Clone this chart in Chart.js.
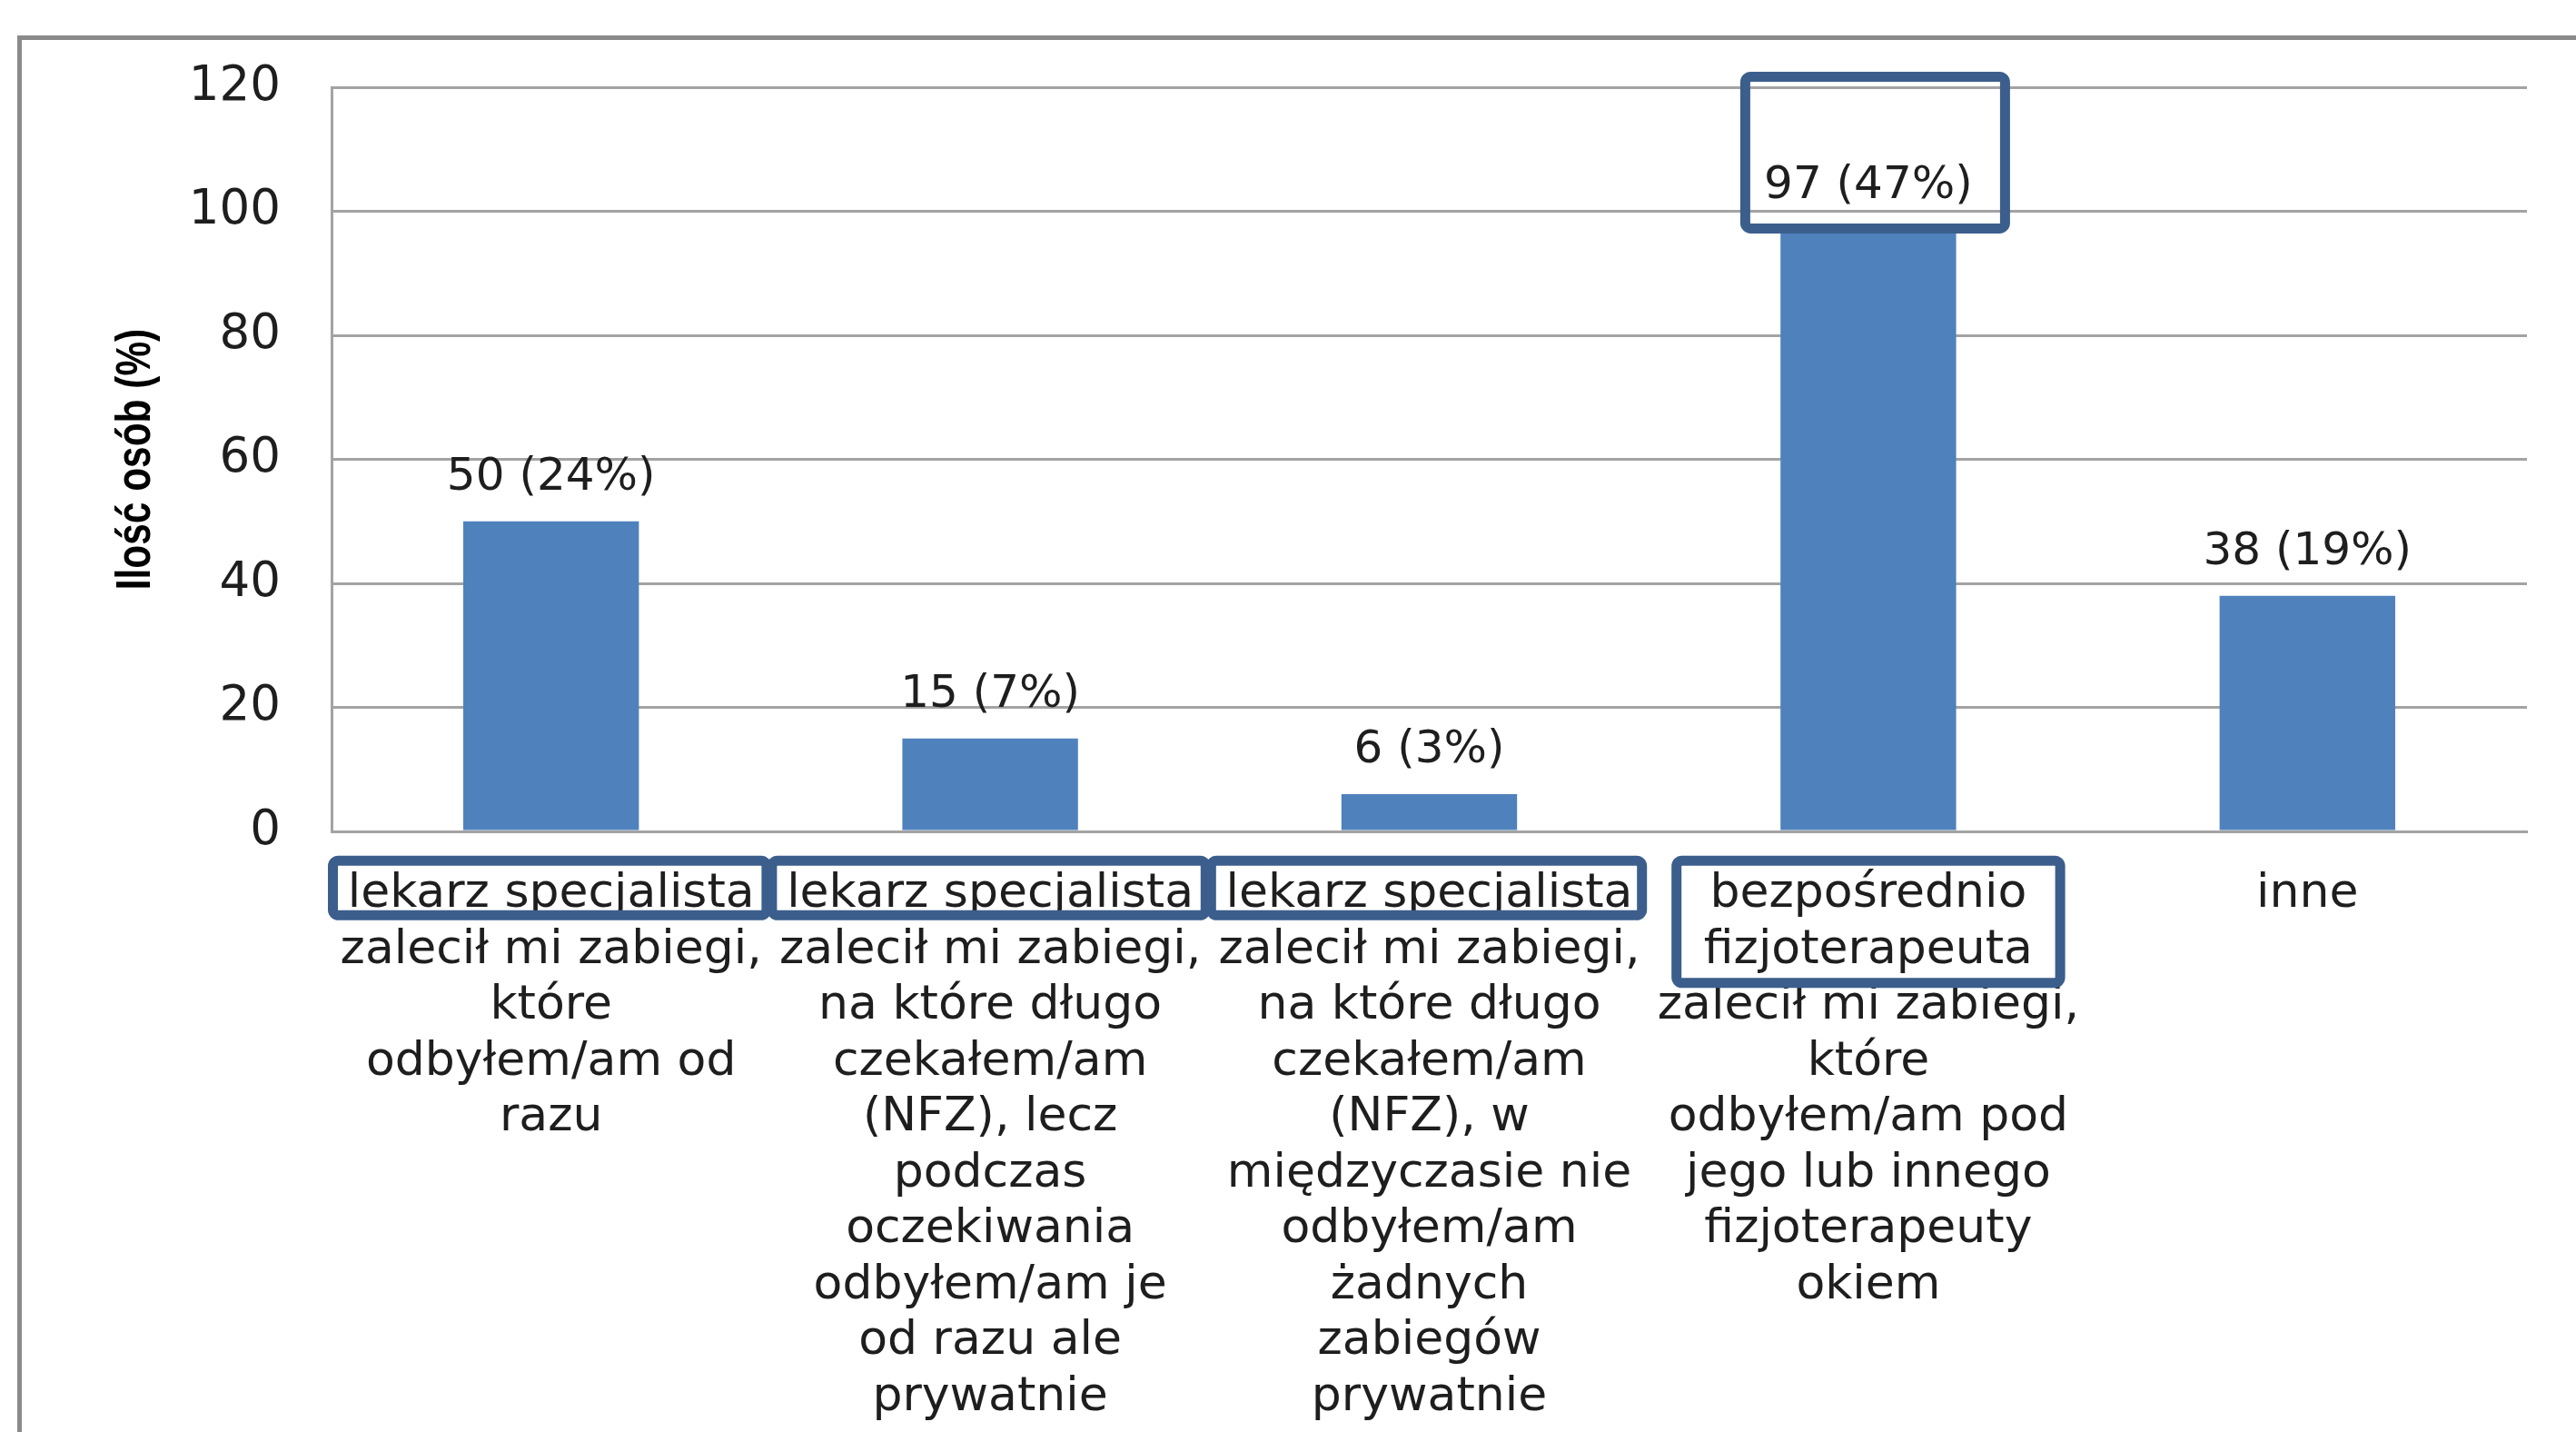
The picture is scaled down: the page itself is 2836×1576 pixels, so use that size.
<!DOCTYPE html>
<html>
<head>
<meta charset="utf-8">
<script src="https://cdn.jsdelivr.net/npm/chart.js@4.4.1/dist/chart.umd.min.js"></script>
<style>
    html, body { margin: 0; padding: 0; background: #fff; overflow: hidden; }
    #wrap { position: relative; width: 2836px; height: 1576px; }
    #frame {
        position: absolute; left: 19px; top: 39px; width: 2900px; height: 1600px;
        border: 5px solid #8a8a8a; box-sizing: border-box;
    }
    canvas { position: absolute; left: 0; top: 0; }
</style>
</head>
<body>
<div id="wrap">
    <div id="frame"></div>
    <canvas id="chart" width="2836" height="1576"></canvas>
</div>
<script>
// categories (one array of lines per bar, wrapped as in the original)
const categories = [
    ['lekarz specjalista', 'zalecił mi zabiegi,', 'które', 'odbyłem/am od', 'razu'],
    ['lekarz specjalista', 'zalecił mi zabiegi,', 'na które długo', 'czekałem/am', '(NFZ), lecz',
     'podczas', 'oczekiwania', 'odbyłem/am je', 'od razu ale', 'prywatnie'],
    ['lekarz specjalista', 'zalecił mi zabiegi,', 'na które długo', 'czekałem/am', '(NFZ), w',
     'międzyczasie nie', 'odbyłem/am', 'żadnych', 'zabiegów', 'prywatnie'],
    ['bezpośrednio', 'fizjoterapeuta', 'zalecił mi zabiegi,', 'które', 'odbyłem/am pod',
     'jego lub innego', 'fizjoterapeuty', 'okiem'],
    ['inne']
];
const counts = [50, 15, 6, 97, 38];
const percents = [24, 7, 3, 47, 19];
const yTicks = [0, 20, 40, 60, 80, 100, 120];
const yTitle = 'Ilość osób (%)';

const BAR_COLOR = '#4F81BD';
const BOX_COLOR = '#3B5E8C';
const GRID_COLOR = '#a3a3a3';
const TEXT_COLOR = '#1e1e1e';
const FONT = '"DejaVu Sans", sans-serif';

const X_FONT_SIZE = 52;
const X_LINE_HEIGHT = 61.5;
const X_PAD = 39;
const LABEL_OFFSET = 48;   // label centre above bar top

// highlight boxes drawn over the picture
const tickBoxes = [
    { index: 0, lines: 1, left: -4, right: -1, top: -43, bottom: 28 },
    { index: 1, lines: 1, left: -4, right: -1, top: -43, bottom: 28 },
    { index: 2, lines: 1, left: -4, right: 2, top: -43, bottom: 28 },
    { index: 3, lines: 2, left: 25, right: 25, top: -43, bottom: 41 }
];
const valueBoxes = [
    { index: 3, left: -141, right: 156, top: -126, bottom: 52 }
];

function roundRect(ctx, x0, y0, x1, y1, lw, r) {
    // outer extents given; stroke sits inside them
    const h = lw / 2;
    ctx.beginPath();
    ctx.roundRect(x0 + h, y0 + h, x1 - x0 - lw, y1 - y0 - lw, r);
    ctx.lineWidth = lw;
    ctx.strokeStyle = BOX_COLOR;
    ctx.stroke();
}

const valueLabels = {
    id: 'valueLabels',
    afterDatasetsDraw(chart) {
        const ctx = chart.ctx;
        const meta = chart.getDatasetMeta(0);
        ctx.save();
        ctx.font = '50px ' + FONT;
        ctx.fillStyle = TEXT_COLOR;
        ctx.textAlign = 'center';
        ctx.textBaseline = 'middle';
        meta.data.forEach((bar, i) => {
            ctx.fillText(`${counts[i]} (${percents[i]}%)`, bar.x, bar.y - LABEL_OFFSET);
        });
        ctx.restore();
    }
};

// condensed, rotated axis title (the original is squeezed along its length)
const axisTitle = {
    id: 'axisTitle',
    afterDraw(chart) {
        const ctx = chart.ctx;
        const ys = chart.scales.y;
        ctx.save();
        ctx.translate(150, (ys.top + ys.bottom) / 2);
        ctx.rotate(-Math.PI / 2);
        ctx.scale(0.8, 1);
        ctx.font = 'bold 53px "Liberation Sans", sans-serif';
        ctx.fillStyle = '#000';
        ctx.textAlign = 'center';
        ctx.textBaseline = 'middle';
        ctx.fillText(yTitle, 0, 0);
        ctx.restore();
    }
};

const highlights = {
    id: 'highlights',
    afterDraw(chart) {
        const ctx = chart.ctx;
        const xs = chart.scales.x;
        const meta = chart.getDatasetMeta(0);
        const band = (xs.right - xs.left) / categories.length;
        ctx.save();
        tickBoxes.forEach(b => {
            const cx = xs.getPixelForValue(b.index);
            const firstLine = xs.top + X_PAD + X_LINE_HEIGHT / 2;
            const lastLine = firstLine + (b.lines - 1) * X_LINE_HEIGHT;
            roundRect(ctx, cx - band / 2 + b.left, firstLine + b.top,
                cx + band / 2 - b.right, lastLine + b.bottom, 11, 6);
        });
        valueBoxes.forEach(b => {
            const bar = meta.data[b.index];
            const ly = bar.y - LABEL_OFFSET;
            roundRect(ctx, bar.x + b.left, ly + b.top, bar.x + b.right, ly + b.bottom, 11, 6);
        });
        ctx.restore();
    }
};

new Chart(document.getElementById('chart'), {
    type: 'bar',
    data: {
        labels: categories,
        datasets: [{
            data: counts,
            backgroundColor: BAR_COLOR,
            borderWidth: 0,
            barPercentage: 0.4,
            categoryPercentage: 1
        }]
    },
    options: {
        responsive: false,
        animation: false,
        devicePixelRatio: 1,
        layout: { padding: { left: 40, top: 96, right: 54, bottom: 0 } },
        plugins: {
            legend: { display: false },
            tooltip: { enabled: false }
        },
        scales: {
            x: {
                grid: { display: false, drawTicks: false },
                border: { color: GRID_COLOR, width: 3 },
                ticks: {
                    autoSkip: false,
                    maxRotation: 0,
                    minRotation: 0,
                    padding: X_PAD,
                    color: TEXT_COLOR,
                    font: { family: FONT, size: X_FONT_SIZE, lineHeight: X_LINE_HEIGHT / X_FONT_SIZE }
                },
                afterFit(scale) { scale.height = 1576 - 915; }
            },
            y: {
                min: 0,
                max: 120,
                afterBuildTicks(scale) { scale.ticks = yTicks.map(v => ({ value: v })); },
                grid: { color: GRID_COLOR, lineWidth: 3, drawTicks: false },
                border: { color: GRID_COLOR, width: 3 },
                ticks: {
                    padding: 56,
                    color: TEXT_COLOR,
                    font: { family: FONT, size: 53 }
                },
                afterFit(scale) { scale.width = 365 - 40; }
            }
        }
    },
    plugins: [valueLabels, axisTitle, highlights]
});
</script>
</body>
</html>
